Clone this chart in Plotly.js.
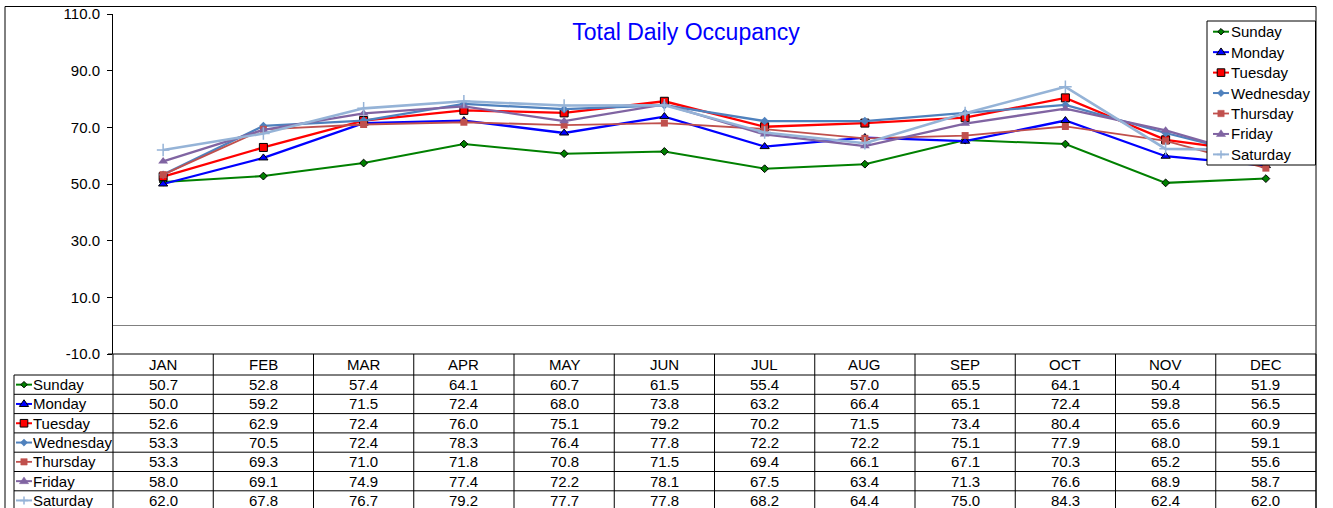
<!DOCTYPE html>
<html>
<head>
<meta charset="utf-8">
<script src="https://cdn.plot.ly/plotly-3.0.1.min.js"></script>
<style>html,body{margin:0;padding:0;background:#fff;}#chart{width:1333px;height:508px;}</style>
</head>
<body>
<div id="chart"></div>
<script>
// ---- data ----
const months = ['JAN','FEB','MAR','APR','MAY','JUN','JUL','AUG','SEP','OCT','NOV','DEC'];
const days = ['Sunday','Monday','Tuesday','Wednesday','Thursday','Friday','Saturday'];
const sunday    = [50.7,52.8,57.4,64.1,60.7,61.5,55.4,57.0,65.5,64.1,50.4,51.9];
const monday    = [50.0,59.2,71.5,72.4,68.0,73.8,63.2,66.4,65.1,72.4,59.8,56.5];
const tuesday   = [52.6,62.9,72.4,76.0,75.1,79.2,70.2,71.5,73.4,80.4,65.6,60.9];
const wednesday = [53.3,70.5,72.4,78.3,76.4,77.8,72.2,72.2,75.1,77.9,68.0,59.1];
const thursday  = [53.3,69.3,71.0,71.8,70.8,71.5,69.4,66.1,67.1,70.3,65.2,55.6];
const friday    = [58.0,69.1,74.9,77.4,72.2,78.1,67.5,63.4,71.3,76.6,68.9,58.7];
const saturday  = [62.0,67.8,76.7,79.2,77.7,77.8,68.2,64.4,75.0,84.3,62.4,62.0];
const yTickVals = [-10,10,30,50,70,90,110];
const yTickText = ['-10.0','10.0','30.0','50.0','70.0','90.0','110.0'];
const chartTitle = 'Total Daily Occupancy';

const series = [sunday, monday, tuesday, wednesday, thursday, friday, saturday];

// ---- styles ----
const styles = [
  {color:'rgb(0,128,0)',     lw:2,   sym:'diamond',     size:6, outline:'#000', ow:1, key:'diamond', kr:3.2},
  {color:'rgb(0,0,255)',     lw:2.3, sym:'triangle-up', size:8, outline:'#000', ow:1, key:'triangle', kr:4.2},
  {color:'rgb(255,0,0)',     lw:2.3, sym:'square',      size:8, outline:'#000', ow:1, key:'square', kr:3.8},
  {color:'rgb(79,129,189)',  lw:2.3, sym:'diamond',     size:6.5, outline:'rgb(79,129,189)', ow:0, key:'diamond', kr:3.6},
  {color:'rgb(192,80,77)',   lw:1.8, sym:'square',      size:7, outline:'rgb(192,80,77)', ow:0, key:'square', kr:3.2},
  {color:'rgb(128,100,162)', lw:2.3, sym:'triangle-up', size:8.5, outline:'rgb(128,100,162)', ow:0, key:'triangle', kr:4.2},
  {color:'rgb(149,179,215)', lw:2.6, sym:'cross-thin-open', size:9, outline:'rgb(149,179,215)', ow:1.5, key:'plus', kr:4}
];

const FONT = 'Arial, "Liberation Sans", sans-serif';
const W = 1333, H = 508;
const L = 113, R = 1316, T = 14, B = 354;
const px2x = p => (p - L) / (R - L);
const py2y = p => (B - p) / (B - T);

const traces = series.map((vals, i) => ({
  type: 'scatter', mode: 'lines+markers', name: days[i],
  x: months, y: vals,
  line: {color: styles[i].color, width: styles[i].lw},
  marker: {symbol: styles[i].sym, size: styles[i].size, color: styles[i].color,
           line: {color: styles[i].outline, width: styles[i].ow}},
  showlegend: false, hoverinfo: 'x+y+name'
}));

const shapes = [];
const annotations = [];

function keyPath(kind, r) {
  if (kind === 'diamond') return `M0,${r} L${r},0 L0,${-r} L${-r},0 Z`;
  if (kind === 'square') return `M${-r},${-r} H${r} V${r} H${-r} Z`;
  if (kind === 'triangle') { const w = r * 1.1; return `M${-w},${-r*0.6} L${w},${-r*0.6} L0,${r} Z`; }
  return `M${-r},0 H${r} M0,${-r} V${r}`;
}
function addKey(cx, cy, i, half) {
  const s = styles[i];
  const base = {xref:'paper', yref:'paper', xsizemode:'pixel', ysizemode:'pixel',
                xanchor: px2x(cx), yanchor: py2y(cy), layer:'above'};
  shapes.push(Object.assign({}, base, {type:'line', x0:-half, x1:half, y0:0, y1:0,
    line:{color:s.color, width: Math.min(s.lw, 2)}}));
  const isPlus = s.key === 'plus';
  shapes.push(Object.assign({}, base, {type:'path', path: keyPath(s.key, s.kr),
    fillcolor: isPlus ? 'rgba(0,0,0,0)' : s.color,
    line:{color: isPlus ? s.color : (s.ow ? s.outline : s.color), width: isPlus ? 1.5 : (s.ow ? 1 : 0.5)}}));
}

// outer frame
shapes.push({type:'line', xref:'paper', yref:'paper', x0:px2x(5), x1:px2x(R), y0:py2y(6.5), y1:py2y(6.5), line:{color:'#000', width:1}});
shapes.push({type:'line', xref:'paper', yref:'paper', x0:px2x(5), x1:px2x(5), y0:py2y(6.5), y1:py2y(512), line:{color:'#000', width:1}});
shapes.push({type:'line', xref:'paper', yref:'paper', x0:1, x1:1, y0:py2y(6.5), y1:py2y(512), line:{color:'#000', width:1}});

// table grid
const headTop = B, headBot = 375, rowH = 19.3;
shapes.push({type:'line', xref:'paper', yref:'paper', x0:px2x(108), x1:1, y0:0, y1:0, line:{color:'#000', width:1}});
for (let r = 0; r <= days.length; r++) {
  const y = headBot + r * rowH;
  shapes.push({type:'line', xref:'paper', yref:'paper', x0:px2x(14), x1:1, y0:py2y(y), y1:py2y(y), line:{color:'#000', width:1}});
}
for (let c = 0; c <= months.length; c++) {
  shapes.push({type:'line', xref:'paper', yref:'paper', x0:c/months.length, x1:c/months.length, y0:0, y1:py2y(512), line:{color:'#000', width:1}});
}
shapes.push({type:'line', xref:'paper', yref:'paper', x0:px2x(14), x1:px2x(14), y0:py2y(headBot), y1:py2y(512), line:{color:'#000', width:1}});

// header labels
months.forEach(m => annotations.push({x:m, xref:'x', y:py2y((headTop+headBot)/2), yref:'paper',
  text:m, showarrow:false, xanchor:'center', yanchor:'middle', font:{family:FONT, size:15, color:'#000'}}));
// rows
days.forEach((d, r) => {
  const cy = headBot + r * rowH + rowH / 2;
  addKey(24, cy, r, 8);
  annotations.push({x:px2x(30.5), xref:'paper', y:py2y(cy), yref:'paper', text:d, showarrow:false,
    xanchor:'left', yanchor:'middle', font:{family:FONT, size:15, color:'#000'}});
  series[r].forEach((v, c) => annotations.push({x:months[c], xref:'x', y:py2y(cy), yref:'paper',
    text:v.toFixed(1), showarrow:false, xanchor:'center', yanchor:'middle', font:{family:FONT, size:15, color:'#000'}}));
});

// legend box
shapes.push({type:'rect', xref:'paper', yref:'paper', x0:px2x(1207), x1:px2x(1315.5), y0:py2y(21), y1:py2y(165),
  fillcolor:'#fff', line:{color:'#000', width:1}, layer:'above'});
days.forEach((d, r) => {
  const cy = 31.7 + r * 20.45;
  addKey(1221, cy, r, 8);
  annotations.push({x:px2x(1228.5), xref:'paper', y:py2y(cy), yref:'paper', text:d, showarrow:false,
    xanchor:'left', yanchor:'middle', font:{family:FONT, size:15, color:'#000'}});
});

const layout = {
  width: W, height: H,
  margin: {l: L, r: W - R, t: T, b: H - B, pad: 0},
  paper_bgcolor: '#fff', plot_bgcolor: '#fff',
  showlegend: false,
  title: {text: chartTitle, font: {family: FONT, size: 23, color: 'rgb(0,0,255)'},
          xref: 'container', x: 686 / W, xanchor: 'center', yref: 'container', y: 1 - 32 / H, yanchor: 'middle'},
  xaxis: {type: 'category', categoryarray: months, categoryorder: 'array', range: [-0.5, 11.5],
          showticklabels: false, ticks: '', showline: false, showgrid: false, zeroline: false, fixedrange: true},
  yaxis: {range: [-10, 110], tickvals: yTickVals, ticktext: yTickText, ticks: 'outside', ticklen: 5,
          tickcolor: '#000', tickwidth: 1, showline: true, linecolor: '#000', linewidth: 1, showgrid: false,
          zeroline: true, zerolinecolor: '#808080', zerolinewidth: 1, ticklabelstandoff: 4,
          tickfont: {family: FONT, size: 15, color: '#000'}, fixedrange: true},
  shapes: shapes,
  annotations: annotations
};

Plotly.newPlot('chart', traces, layout, {displayModeBar: false, staticPlot: true});
</script>
</body>
</html>
